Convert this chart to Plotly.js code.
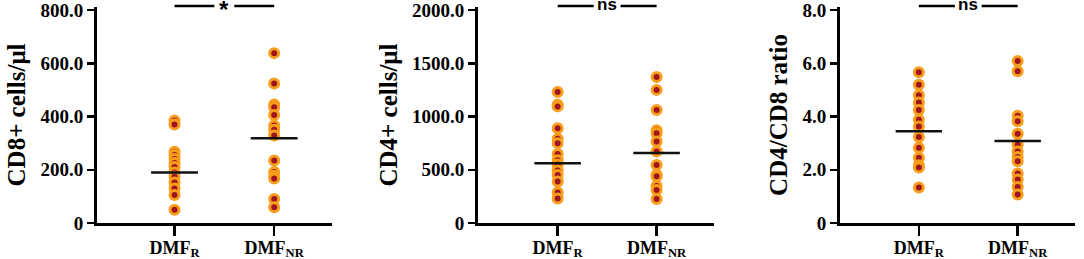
<!DOCTYPE html>
<html>
<head>
<meta charset="utf-8">
<script src="https://cdn.plot.ly/plotly-3.0.1.min.js"></script>
<style>html,body{margin:0;padding:0;background:#fff;}#chart{width:1084px;height:259px;}</style>
</head>
<body>
<div id="chart"></div>
<script>
// ---- data ----
const groups = ['DMF<sub>R</sub>', 'DMF<sub>NR</sub>'];

const cd8_R  = [385, 370, 268, 255, 240, 225, 210, 190, 175, 152, 130, 105, 50];
const cd8_NR = [638, 524, 445, 435, 406, 366, 350, 329, 235, 192, 177, 167, 90, 59];
const cd8_mean = [190, 318];

const cd4_R  = [1230, 1110, 1095, 890, 790, 750, 647, 590, 550, 493, 450, 390, 286, 230];
const cd4_NR = [1370, 1250, 1062, 872, 843, 765, 672, 545, 452, 440, 347, 310, 225];
const cd4_mean = [560, 658];

const ratio_R  = [5.66, 5.19, 4.80, 4.53, 4.24, 3.88, 3.62, 3.23, 2.83, 2.45, 2.17, 2.08, 1.33];
const ratio_NR = [6.08, 5.70, 4.03, 3.82, 3.35, 2.95, 2.69, 2.48, 2.32, 1.86, 1.63, 1.35, 1.07];
const ratio_mean = [3.45, 3.08];

const yTitles = ['CD8+ cells/μl', 'CD4+ cells/μl', 'CD4/CD8 ratio'];
const yTickVals = [[0, 200, 400, 600, 800], [0, 500, 1000, 1500, 2000], [0, 2, 4, 6, 8]];
const yTickText = [['0', '200.0', '400.0', '600.0', '800.0'],
                   ['0', '500.0', '1000.0', '1500.0', '2000.0'],
                   ['0', '2.0', '4.0', '6.0', '8.0']];
const sigLabels = ['*', 'ns', 'ns'];

// ---- build ----
const panels = [
  {R: cd8_R, NR: cd8_NR, mean: cd8_mean},
  {R: cd4_R, NR: cd4_NR, mean: cd4_mean},
  {R: ratio_R, NR: ratio_NR, mean: ratio_mean}
];
const W = 1084, H = 259;
const xDomPx = [[97, 332], [478, 714], [840, 1075]];
const xRanges = [[-0.778, 1.58], [-0.805, 1.58], [-0.798, 1.58]];
const yTopPx = 7, yBotPx = 223, yTickTopPx = 10;
const yDom = [1 - yBotPx / H, 1 - yTopPx / H];
const sigGap = [0.1, 0.135, 0.135];
const orange = '#F99D1C', red = '#9E1620';
const fontSerif = 'Liberation Serif, Times New Roman, serif';

const traces = [];
const layout = {
  width: W, height: H,
  margin: {l: 0, r: 0, t: 0, b: 0},
  paper_bgcolor: '#fff', plot_bgcolor: '#fff',
  showlegend: false,
  shapes: [], annotations: []
};

panels.forEach((p, i) => {
  const n = i === 0 ? '' : String(i + 1);
  const xa = 'x' + n, ya = 'y' + n;
  [p.R, p.NR].forEach((vals, g) => {
    traces.push({
      type: 'scatter', mode: 'markers', xaxis: xa, yaxis: ya,
      x: vals.map(() => g), y: vals,
      marker: {size: 9, color: red, line: {color: orange, width: 3}},
      cliponaxis: false, hoverinfo: 'y'
    });
    traces.push({
      type: 'scatter', mode: 'lines', xaxis: xa, yaxis: ya,
      x: [g - 0.235, g + 0.235], y: [p.mean[g], p.mean[g]],
      line: {color: '#111', width: 2.5}, hoverinfo: 'skip'
    });
  });
  const yMax = yTickVals[i][yTickVals[i].length - 1];
  const yTop = yMax * (yBotPx - yTopPx) / (yBotPx - yTickTopPx);
  layout['xaxis' + n] = {
    domain: [xDomPx[i][0] / W, xDomPx[i][1] / W],
    range: xRanges[i], anchor: ya,
    tickmode: 'array', tickvals: [0, 1], ticktext: groups,
    showline: true, linecolor: '#000', linewidth: 3,
    ticks: 'outside', ticklen: 10, tickwidth: 2.5, tickcolor: '#000',
    ticklabelstandoff: -4, ticklabeloverflow: 'allow',
    showgrid: false, zeroline: false,
    tickfont: {family: fontSerif, size: 18, color: '#000', weight: 'bold'}
  };
  layout['yaxis' + n] = {
    domain: yDom, range: [0, yTop], anchor: xa,
    tickmode: 'array', tickvals: yTickVals[i], ticktext: yTickText[i],
    showline: true, linecolor: '#000', linewidth: 3,
    ticks: 'outside', ticklen: 7, tickwidth: 2.5, tickcolor: '#000',
    ticklabeloverflow: 'allow',
    showgrid: false, zeroline: false,
    tickfont: {family: fontSerif, size: 19, color: '#000', weight: 'bold'},
    title: {text: '<b>' + yTitles[i] + '</b>', standoff: 8,
            font: {family: fontSerif, size: 25, color: '#000', weight: 'bold'}}
  };
  const yb = 1 - 6 / H;
  layout.shapes.push({type: 'line', xref: xa, yref: 'paper', x0: 0, x1: 0.5 - sigGap[i], y0: yb, y1: yb,
                      line: {color: '#000', width: 2.5}});
  layout.shapes.push({type: 'line', xref: xa, yref: 'paper', x0: 0.5 + sigGap[i], x1: 1, y0: yb, y1: yb,
                      line: {color: '#000', width: 2.5}});
  layout.annotations.push({
    xref: xa, yref: 'paper', x: 0.5, y: i === 0 ? yb - 0.012 : yb + 0.004,
    text: '<b>' + sigLabels[i] + '</b>', showarrow: false,
    xanchor: 'center', yanchor: 'middle',
    font: {family: 'Liberation Sans, Arial, sans-serif', size: i === 0 ? 24 : 17, color: '#000'}
  });
});

Plotly.newPlot('chart', traces, layout, {staticPlot: true, displayModeBar: false});
</script>
</body>
</html>
